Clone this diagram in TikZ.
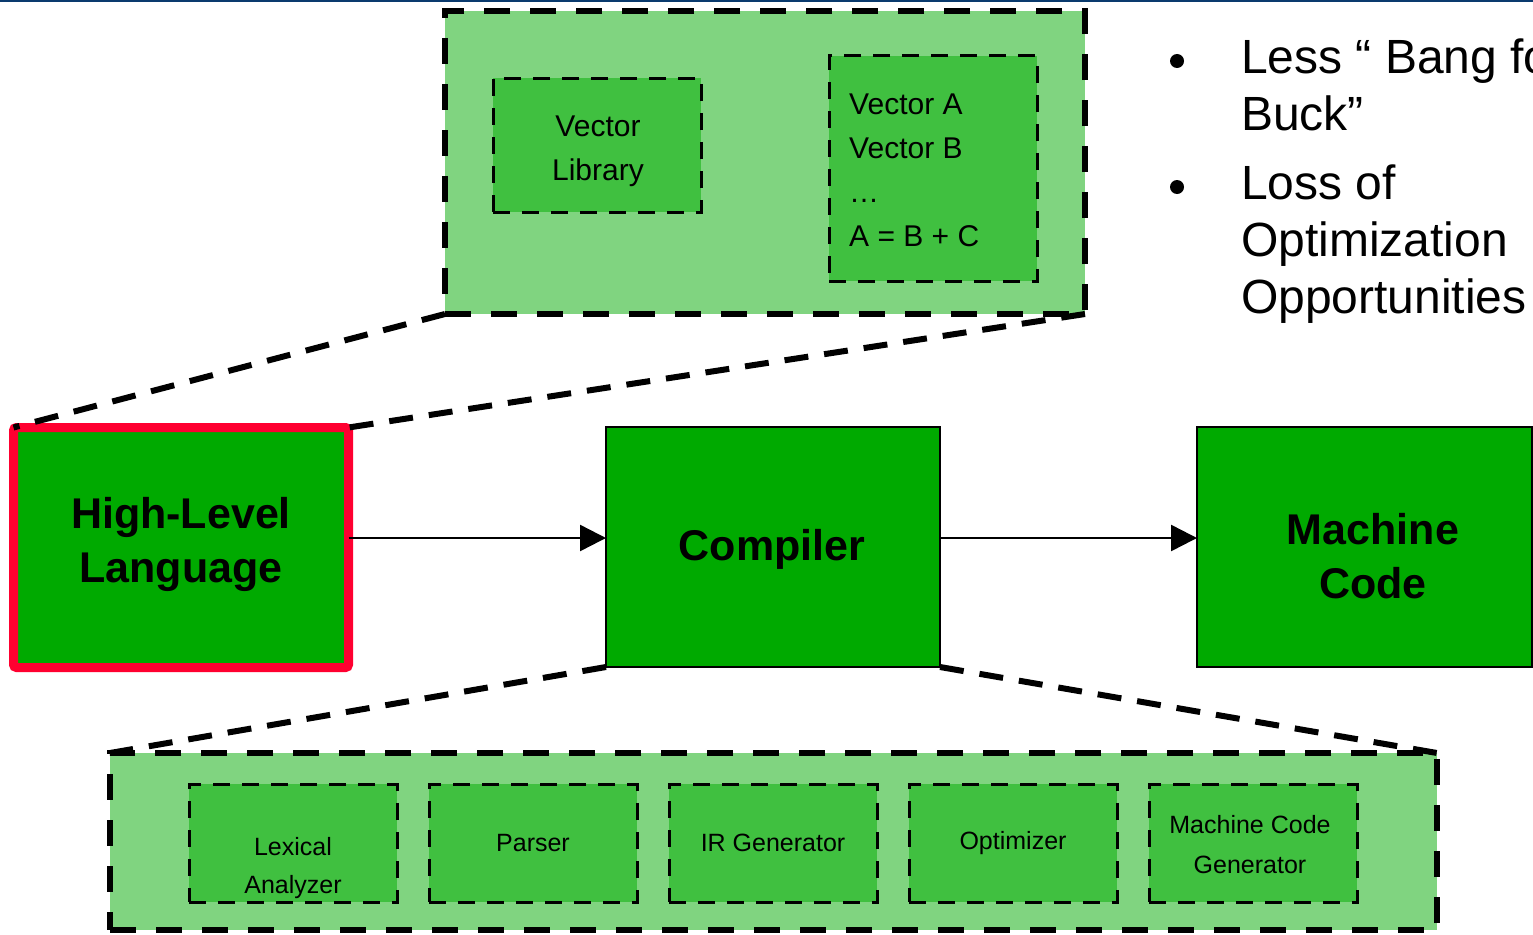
\documentclass[tikz,border=0pt]{standalone}
\usepackage{fontspec}
\setmainfont{Liberation Sans}
\usetikzlibrary{arrows.meta}

\definecolor{paleg}{HTML}{80D480}
\definecolor{midg}{HTML}{40C040}
\definecolor{darkg}{HTML}{00AA00}
\definecolor{hlred}{HTML}{FF0030}
\definecolor{rulebl}{HTML}{0A3A6E}

\tikzset{
  wrapbox/.style={draw=black, fill=paleg, line width=6pt,
    dash pattern=on 26pt off 20pt, inner sep=0pt, outer sep=0pt},
  partbox/.style={draw=black, fill=midg, line width=3pt,
    dash pattern=on 17pt off 12pt, inner sep=0pt, outer sep=0pt,
    minimum width=208pt},
  stagebox/.style={partbox, minimum height=118pt,
    font=\fontsize{25}{40}\selectfont, align=center},
  mainbox/.style={draw=black, fill=darkg, line width=2pt,
    inner sep=0pt, outer sep=0pt, minimum width=334pt, minimum height=240pt},
  bigtext/.style={font=\fontsize{43}{54}\selectfont\bfseries, align=center,
    inner sep=0pt},
  smalltext/.style={inner sep=0pt},
  bullettext/.style={font=\fontsize{48}{57}\selectfont, align=left,
    inner sep=0pt, anchor=base west},
  bulletdot/.style={circle, fill=black, inner sep=0pt, minimum size=14pt},
  zoomline/.style={draw=black, line width=6pt, dash pattern=on 24pt off 16pt},
  flow/.style={draw=black, line width=2.5pt,
    -{Triangle[length=26pt, width=26pt]}},
}

\begin{document}
\begin{tikzpicture}[x=1pt, y=-1pt]
  \useasboundingbox (0,0) rectangle (1533,934);
  \clip (0,0) rectangle (1533,934);

  % thin header rule
  \fill[rulebl] (0,0) rectangle (1533,1.6);

  % expanded view of the source program
  % (multi-line labels are placed by the baseline of their last line)
  \node[wrapbox, minimum width=640pt, minimum height=303pt] (srcwrap) at (765,162.5) {};
  \node[partbox, minimum height=134pt] (veclib) at (597,145) {};
  \node[smalltext, font=\fontsize{30}{44}\selectfont, align=center, anchor=base]
    (veclibtxt) at (598,180) {Vector\\Library};
  \node[partbox, minimum height=225pt] (veccode) at (933,168.5) {};
  \node[smalltext, font=\fontsize{30}{43.7}\selectfont, align=left, anchor=base west]
    (veccodetxt) at (849,246) {Vector A\\Vector B\\…\\A = B + C};

  % bullet remarks
  \node[bulletdot] (dot1) at (1177,61) {};
  \node[bullettext] (remark1) at (1241,130) {Less “ Bang for\\Buck”};
  \node[bulletdot] (dot2) at (1177,187) {};
  \node[bullettext] (remark2) at (1241,313) {Loss of\\Optimization\\Opportunities};

  % expanded view of the compiler stages
  \node[wrapbox, minimum width=1327pt, minimum height=177pt] (stagewrap) at (773.5,841.5) {};
  \node[stagebox] (lex) at (293,843) {};
  \node[smalltext, font=\fontsize{25}{38}\selectfont, align=center, anchor=base]
    (lextxt) at (293,893) {Lexical\\Analyzer};
  \node[stagebox] (parse) at (533,843) {Parser};
  \node[stagebox] (irgen) at (773,843) {IR Generator};
  \node[stagebox] (opt) at (1013,843) {Optimizer};
  \node[stagebox] (mcgen) at (1253,843) {};
  \node[smalltext, font=\fontsize{25}{40}\selectfont, align=center, anchor=base]
    (mcgentxt) at (1250,873) {Machine Code\\Generator};

  % main flow
  \node[draw=hlred, fill=darkg, line width=9pt, rounded corners=3pt,
    inner sep=0pt, outer sep=0pt, minimum width=335pt, minimum height=240pt]
    (hll) at (181,547.5) {};
  \node[bigtext, anchor=base] (hlltxt) at (181,582) {High-Level\\Language};
  \node[mainbox] (comp) at (773,547) {};
  \node[bigtext, anchor=base] (comptxt) at (772,560) {Compiler};
  \node[mainbox, minimum width=335pt] (mc) at (1364.5,547) {};
  \node[bigtext, anchor=base] (mctxt) at (1373,598) {Machine\\Code};

  % zoom guides
  \draw[zoomline] (srcwrap.south west) -- (hll.north west);
  \draw[zoomline] (srcwrap.south east) -- (hll.north east);
  \draw[zoomline] (comp.south west) -- (stagewrap.north west);
  \draw[zoomline] (comp.south east) -- (stagewrap.north east);

  % arrows between stages
  \coordinate (flowrow) at (0,538);
  \draw[flow] (hll.east |- flowrow) -- (comp.west |- flowrow);
  \draw[flow] (comp.east |- flowrow) -- (mc.west |- flowrow);
\end{tikzpicture}
\end{document}
